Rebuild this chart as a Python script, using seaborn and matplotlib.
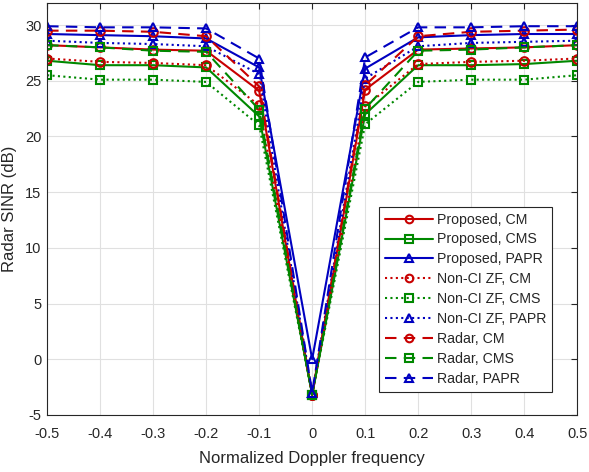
import numpy as np
import pandas as pd
import seaborn as sns
import matplotlib
matplotlib.use("Agg")
import matplotlib.pyplot as plt

doppler = [-0.5, -0.4, -0.3, -0.2, -0.1, 0.0, 0.1, 0.2, 0.3, 0.4, 0.5]

proposed_cm = [28.2, 28.0, 27.8, 27.7, 24.1, -3.2, 24.2, 27.8, 27.9, 28.0, 28.2]
proposed_cms = [26.8, 26.4, 26.4, 26.2, 21.8, -3.2, 22.0, 26.4, 26.4, 26.5, 26.8]
proposed_papr = [29.2, 29.1, 29.0, 28.8, 26.2, 0.0, 26.1, 28.9, 29.1, 29.2, 29.2]
nonci_cm = [27.0, 26.7, 26.6, 26.4, 22.8, -3.2, 22.7, 26.5, 26.7, 26.8, 27.0]
nonci_cms = [25.5, 25.1, 25.1, 24.9, 21.0, -3.2, 21.1, 24.9, 25.1, 25.1, 25.5]
nonci_papr = [28.6, 28.4, 28.3, 28.1, 25.6, -3.0, 25.2, 28.1, 28.4, 28.5, 28.6]
radar_cm = [29.5, 29.5, 29.4, 29.0, 24.5, -3.2, 24.6, 29.0, 29.4, 29.5, 29.6]
radar_cms = [28.2, 28.0, 27.7, 27.6, 22.4, -3.2, 22.5, 27.7, 27.8, 28.0, 28.2]
radar_papr = [29.9, 29.8, 29.8, 29.7, 27.0, -3.0, 27.1, 29.8, 29.8, 29.9, 29.9]

labels = ["Proposed, CM", "Proposed, CMS", "Proposed, PAPR",
          "Non-CI ZF, CM", "Non-CI ZF, CMS", "Non-CI ZF, PAPR",
          "Radar, CM", "Radar, CMS", "Radar, PAPR"]
series = [proposed_cm, proposed_cms, proposed_papr,
          nonci_cm, nonci_cms, nonci_papr,
          radar_cm, radar_cms, radar_papr]

red, green, blue = "#c80000", "#008800", "#0000c0"
colors = [red, green, blue] * 3
markers = ["o", "s", "^"] * 3
styles = ["-"] * 3 + [(0, (1, 1.6))] * 3 + [(0, (5.5, 3.5))] * 3

sns.set_style("whitegrid")
plt.rcParams["font.family"] = ["Liberation Sans", "DejaVu Sans"]
plt.rcParams["axes.unicode_minus"] = False

fig = plt.figure(figsize=(5.89, 4.72), dpi=100)
ax = fig.add_axes([0.080, 0.121, 0.900, 0.873])

for lab, vals, c, m, ls in zip(labels, series, colors, markers, styles):
    df = pd.DataFrame({"x": doppler, "y": vals})
    sns.lineplot(data=df, x="x", y="y", ax=ax, color=c, marker=m,
                 linestyle=ls, linewidth=1.5, markersize=6.2,
                 markerfacecolor="none", markeredgecolor=c,
                 markeredgewidth=1.5, label=lab)

ax.set_xlim(-0.5, 0.5)
ax.set_ylim(-5, 32)
ax.set_xticks(np.round(np.arange(-0.5, 0.51, 0.1), 1))
ax.set_xticklabels(["-0.5", "-0.4", "-0.3", "-0.2", "-0.1", "0",
                    "0.1", "0.2", "0.3", "0.4", "0.5"])
ax.set_yticks([-5, 0, 5, 10, 15, 20, 25, 30])
ax.set_xlabel("Normalized Doppler frequency", fontsize=12, color="#262626",
              labelpad=7)
ax.set_ylabel("Radar SINR (dB)", fontsize=12, color="#262626", labelpad=6)
ax.tick_params(direction="in", length=4, labelsize=10.5, top=True, right=True,
               colors="#262626", width=0.8)
ax.tick_params(axis="x", pad=9)
ax.tick_params(axis="y", pad=4)
ax.grid(True, color="#e0e0e0", linewidth=0.8)
for s in ax.spines.values():
    s.set_color("#262626")
    s.set_linewidth(0.8)

leg = ax.legend(loc="lower right", bbox_to_anchor=(0.953, 0.056), fontsize=10.2,
                frameon=True, fancybox=False, edgecolor="#262626",
                framealpha=1, borderpad=0.4, labelspacing=0.42,
                handlelength=3.4, handletextpad=0.3, borderaxespad=0.0)
leg.get_frame().set_linewidth(0.8)
for h in leg.legend_handles:
    h.set_markersize(5.5)

fig.savefig("out.png", dpi=100)
